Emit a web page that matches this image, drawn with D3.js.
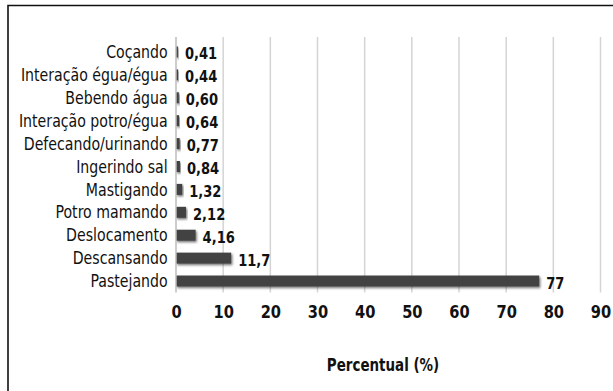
<!DOCTYPE html>
<html>
<head>
<meta charset="utf-8">
<script src="https://cdn.jsdelivr.net/npm/d3@7/dist/d3.min.js"></script>
<style>
  html, body { margin: 0; padding: 0; background: #fff; }
  svg { display: block; }
  text { font-family: "DejaVu Sans Condensed", "Liberation Sans Narrow", sans-serif; fill: #111; }
</style>
</head>
<body>
<svg id="chart" width="613" height="391"></svg>
<script>
// Behaviour categories (top to bottom) and their share of observed time (%)
const categories = [
  "Coçando", "Interação égua/égua", "Bebendo água", "Interação potro/égua",
  "Defecando/urinando", "Ingerindo sal", "Mastigando", "Potro mamando",
  "Deslocamento", "Descansando", "Pastejando"
];
const values = [0.41, 0.44, 0.60, 0.64, 0.77, 0.84, 1.32, 2.12, 4.16, 11.7, 77];
const valueLabels = ["0,41", "0,44", "0,60", "0,64", "0,77", "0,84", "1,32", "2,12", "4,16", "11,7", "77"];
const xTicks = [0, 10, 20, 30, 40, 50, 60, 70, 80, 90];
const xTitle = "Percentual (%)";

const svg = d3.select("#chart");
const W = 613, H = 391;
const plot = { left: 176, right: 600.5, top: 37, bottom: 292.5 };
const narrow = 0.88;      // horizontal squeeze for a narrow-looking face
const narrowCat = 0.925;  // squeeze for the category names

// Outer frame: top and left edges
svg.append("path")
  .attr("d", `M8,${H} L8,5.5 L${W},5.5`)
  .attr("fill", "none").attr("stroke", "#111").attr("stroke-width", 1.6);

const defs = svg.append("defs");
const f = defs.append("filter").attr("id", "barShadow")
  .attr("x", "-20%").attr("y", "-60%").attr("width", "140%").attr("height", "240%");
f.append("feDropShadow").attr("dx", 1.2).attr("dy", 1.5).attr("stdDeviation", 1.3)
  .attr("flood-color", "#000").attr("flood-opacity", 0.55);

const x = d3.scaleLinear().domain([0, 90]).range([plot.left, plot.right]);
const y = d3.scaleBand().domain(categories).range([40.5, 292.5]).paddingInner(0.52).paddingOuter(0.26);

// Vertical gridlines
svg.append("g").selectAll("line").data(xTicks.slice(1)).join("line")
  .attr("x1", d => x(d)).attr("x2", d => x(d))
  .attr("y1", plot.top).attr("y2", plot.bottom)
  .attr("stroke", "#d4d4d4").attr("stroke-width", 1.5);

// Bars
svg.append("g").selectAll("rect").data(values).join("rect")
  .attr("x", x(0))
  .attr("y", (d, i) => y(categories[i]))
  .attr("width", d => Math.max(1.6, x(d) - x(0)))
  .attr("height", y.bandwidth())
  .attr("fill", "#434343")
  .attr("filter", "url(#barShadow)");

// Category axis line
svg.append("line")
  .attr("x1", x(0)).attr("x2", x(0))
  .attr("y1", plot.top).attr("y2", plot.bottom)
  .attr("stroke", "#bdbdbd").attr("stroke-width", 1.5);

// Category labels
const yAxis = d3.axisLeft(y).tickSize(0).tickPadding(9);
const gy = svg.append("g").attr("transform", `translate(${x(0)},0) scale(${narrowCat},1)`).call(yAxis);
gy.select(".domain").remove();
gy.selectAll("text").attr("font-size", 17).attr("dy", "0.36em")
  .style("font-family", '"DejaVu Sans Condensed", "Liberation Sans Narrow", sans-serif');

// Value labels
svg.append("g").selectAll("text").data(values).join("text")
  .attr("transform", (d, i) => {
    const tx = Math.max(x(0) + 1.6, x(d)) + 7;
    const ty = y(categories[i]) + y.bandwidth() / 2 + 1.5;
    return `translate(${tx},${ty}) scale(${narrow},1)`;
  })
  .attr("dy", "0.36em")
  .attr("font-size", 16.5).attr("font-weight", "bold")
  .text((d, i) => valueLabels[i]);

// Value axis tick labels
const xAxis = d3.axisBottom(x).tickValues(xTicks).tickSize(0).tickPadding(12).tickFormat(d3.format("d"));
const gx = svg.append("g").attr("transform", `translate(0,${plot.bottom})`).call(xAxis);
gx.select(".domain").remove();
gx.selectAll(".tick text")
  .attr("font-size", 18.5).attr("font-weight", "bold")
  .attr("transform", `scale(${narrow},1)`)
  .style("font-family", '"DejaVu Sans Condensed", "Liberation Sans Narrow", sans-serif');

// Axis title
svg.append("text")
  .attr("transform", `translate(383,371) scale(${narrow},1)`)
  .attr("text-anchor", "middle")
  .attr("font-size", 17).attr("font-weight", "bold")
  .text(xTitle);
</script>
</body>
</html>
